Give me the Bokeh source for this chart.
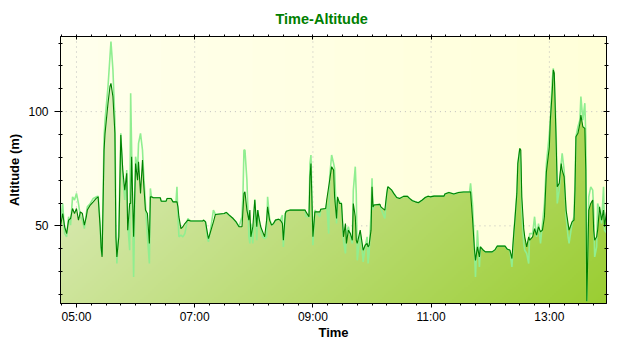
import numpy as np
import pandas as pd
from bokeh.plotting import figure
from bokeh.models import (Range1d, FixedTicker, DatetimeTickFormatter, LinearAxis,
                          CustomJSTickFormatter)
from bokeh.embed import file_html
from bokeh.resources import INLINE

DAY = "2024-05-01 "

times = [
    "04:44", "04:46", "04:48", "04:50", "04:52", "04:54", "04:56", "04:58", "05:00", "05:02",
    "05:04", "05:06", "05:08", "05:10", "05:11", "05:14", "05:17", "05:20", "05:22", "05:24",
    "05:25", "05:26", "05:28", "05:29", "05:32", "05:34", "05:35", "05:37", "05:39", "05:40",
    "05:41", "05:43", "05:45", "05:47", "05:49", "05:51", "05:52", "05:54", "05:55", "05:56",
    "05:58", "06:00", "06:02", "06:03", "06:05", "06:07", "06:08", "06:10", "06:12", "06:14",
    "06:15", "06:16", "06:18", "06:25", "06:26", "06:31", "06:32", "06:36", "06:38", "06:41",
    "06:42", "06:43", "06:44", "06:46", "06:48", "06:50", "06:53", "06:56", "07:08", "07:09",
    "07:11", "07:13", "07:14", "07:17", "07:19", "07:21", "07:30", "07:32", "07:35", "07:39",
    "07:42", "07:45", "07:48", "07:49", "07:50", "07:51", "07:53", "07:55", "07:56", "07:57",
    "07:59", "08:01", "08:03", "08:04", "08:05", "08:07", "08:09", "08:11", "08:13", "08:14",
    "08:16", "08:18", "08:20", "08:22", "08:25", "08:27", "08:29", "08:30", "08:32", "08:33",
    "08:37", "08:52", "08:53", "08:56", "08:57", "08:58", "09:00", "09:02", "09:07", "09:08",
    "09:13", "09:14", "09:16", "09:17", "09:19", "09:21", "09:22", "09:24", "09:25", "09:27",
    "09:29", "09:31", "09:33", "09:34", "09:36", "09:38", "09:40", "09:41", "09:43", "09:44",
    "09:45", "09:48", "09:50", "09:51", "09:53", "09:55", "09:56", "09:57", "09:59", "10:00",
    "10:01", "10:02", "10:08", "10:09", "10:13", "10:15", "10:16", "10:18", "10:20", "10:22",
    "10:25", "10:28", "10:32", "10:36", "10:38", "10:41", "10:44", "10:47", "10:51", "10:54",
    "10:57", "10:59", "11:03", "11:13", "11:14", "11:18", "11:23", "11:28", "11:33", "11:39",
    "11:40", "11:42", "11:44", "11:45", "11:47", "11:49", "11:50", "11:53", "11:55", "12:02",
    "12:05", "12:07", "12:15", "12:17", "12:20", "12:22", "12:24", "12:25", "12:27", "12:28",
    "12:30", "12:31", "12:32", "12:34", "12:35", "12:37", "12:39", "12:40", "12:43", "12:45",
    "12:47", "12:49", "12:51", "12:53", "12:55", "12:57", "13:00", "13:01", "13:03", "13:04",
    "13:05", "13:07", "13:08", "13:10", "13:12", "13:13", "13:15", "13:17", "13:19", "13:20",
    "13:23", "13:25", "13:26", "13:27", "13:29", "13:31", "13:32", "13:34", "13:36", "13:37",
    "13:38", "13:40", "13:42", "13:44", "13:45", "13:46", "13:48", "13:49", "13:51", "13:53",
    "13:55", "13:56", "13:58",
]

# smoothed altitude (dark green line, top of the filled area)
altitude = [
    50.3, 55.4, 49.6, 46.6, 52.5, 53.2, 57.6, 55.4, 57.6, 52.5,
    56.1, 55.4, 50.3, 54.0, 56.9, 59.1, 60.5, 62.0, 62.7, 49.6,
    40.8, 36.4, 83.2, 90.5, 103.7, 111.0, 112.4, 106.6, 90.5, 45.2,
    36.4, 45.2, 89.8, 74.4, 65.6, 73.0, 48.1, 59.8, 59.8, 80.3,
    45.2, 77.3, 70.0, 78.1, 64.2, 78.8, 70.0, 56.9, 55.4, 42.3,
    62.7, 62.7, 62.3, 62.3, 60.8, 60.8, 62.0, 62.0, 60.5, 60.5,
    60.5, 58.3, 53.9, 48.8, 49.6, 51.0, 52.5, 52.1, 52.1, 52.5,
    51.7, 46.6, 44.4, 48.8, 51.7, 55.0, 55.4, 55.9, 54.7, 53.2,
    51.7, 49.6, 49.6, 56.9, 64.2, 64.9, 56.9, 52.5, 56.9, 45.2,
    49.6, 61.3, 49.6, 56.9, 54.0, 49.6, 47.4, 45.2, 52.5, 58.3,
    52.5, 50.3, 51.0, 52.5, 52.9, 52.5, 51.0, 43.7, 55.4, 56.4,
    56.9, 56.9, 56.1, 54.0, 71.5, 77.3, 45.2, 56.1, 56.1, 57.3,
    57.6, 61.3, 67.1, 70.0, 75.9, 74.4, 62.7, 53.2, 62.7, 59.8,
    59.8, 45.2, 51.0, 42.3, 48.1, 46.6, 43.7, 59.8, 54.0, 43.7,
    42.3, 48.1, 42.3, 39.3, 41.5, 42.3, 40.8, 41.5, 48.1, 67.1,
    58.3, 59.1, 59.4, 58.3, 56.9, 64.2, 67.1, 66.4, 65.6, 64.2,
    62.4, 62.0, 62.9, 62.9, 62.0, 61.0, 60.5, 60.1, 61.3, 62.4,
    63.0, 62.7, 63.0, 63.0, 63.9, 64.6, 63.9, 64.6, 64.8, 64.8,
    64.9, 53.2, 39.3, 34.9, 40.8, 36.4, 40.8, 39.3, 38.6, 38.6,
    39.6, 41.1, 41.1, 39.9, 39.3, 35.7, 47.4, 52.5, 64.2, 77.3,
    83.9, 83.2, 62.7, 48.8, 45.2, 40.8, 45.2, 43.7, 45.2, 48.8,
    45.9, 49.6, 47.4, 48.1, 54.0, 73.7, 84.7, 96.3, 109.5, 118.3,
    116.8, 84.7, 67.1, 68.6, 77.3, 74.4, 71.5, 56.9, 51.0, 48.1,
    51.7, 52.5, 65.6, 89.0, 90.5, 94.9, 98.5, 93.4, 92.7, 74.4,
    17.0, 56.9, 59.8, 61.3, 48.1, 43.7, 45.2, 48.1, 58.3, 52.5,
    56.9, 49.6, 56.1,
]

# raw GPS altitude (light green line)
altitude_raw = [
    53.0, 59.8, 46.6, 45.2, 54.0, 50.3, 62.7, 61.3, 64.2, 59.8,
    54.0, 52.5, 48.8, 55.4, 58.3, 59.8, 62.0, 62.7, 63.0, 51.0,
    39.3, 37.1, 89.0, 96.3, 111.0, 124.1, 130.7, 118.3, 96.3, 51.0,
    33.5, 48.1, 90.5, 71.5, 61.3, 74.4, 51.0, 39.3, 108.0, 83.2,
    27.6, 80.3, 74.4, 86.1, 90.5, 83.2, 74.4, 59.8, 45.2, 33.5,
    66.4, 62.7, 62.3, 62.3, 60.8, 60.8, 62.0, 62.0, 60.5, 60.5,
    67.1, 54.0, 45.2, 45.9, 45.2, 46.6, 53.2, 52.1, 52.1, 52.5,
    51.7, 44.4, 43.0, 51.0, 56.9, 55.0, 55.4, 55.9, 54.7, 53.2,
    51.7, 49.6, 54.0, 64.2, 83.2, 83.2, 70.0, 45.2, 42.3, 51.0,
    42.3, 61.6, 43.7, 56.9, 54.0, 48.1, 45.2, 44.4, 45.2, 62.7,
    53.2, 50.3, 51.0, 52.5, 52.9, 52.5, 54.7, 40.8, 55.4, 56.4,
    56.9, 56.9, 54.0, 54.0, 77.3, 81.0, 41.5, 56.9, 54.0, 57.3,
    57.6, 59.8, 46.6, 71.5, 81.0, 77.3, 75.1, 51.0, 61.3, 60.5,
    59.8, 43.7, 37.9, 46.6, 49.6, 45.2, 42.3, 65.6, 75.9, 64.2,
    34.9, 46.6, 39.3, 34.2, 40.8, 45.2, 33.5, 37.9, 55.4, 70.8,
    56.9, 59.1, 59.4, 57.6, 53.2, 64.2, 67.1, 66.4, 65.6, 64.2,
    62.4, 62.0, 62.9, 62.9, 62.0, 61.0, 60.5, 60.1, 61.3, 62.4,
    63.0, 62.7, 63.0, 63.0, 63.9, 64.6, 63.9, 64.6, 64.8, 64.8,
    68.6, 59.8, 39.3, 27.6, 48.1, 32.0, 40.8, 39.3, 38.6, 38.6,
    39.6, 41.1, 41.1, 39.9, 39.3, 32.0, 47.4, 52.5, 64.2, 77.3,
    83.9, 76.0, 56.9, 42.3, 39.3, 37.9, 33.5, 46.6, 46.6, 54.0,
    45.2, 51.0, 42.3, 51.0, 59.8, 77.3, 90.5, 96.3, 113.9, 119.0,
    113.9, 89.0, 59.8, 65.6, 77.3, 81.7, 74.4, 54.0, 45.2, 42.3,
    51.0, 54.0, 68.6, 89.0, 93.4, 96.3, 106.6, 96.3, 103.7, 89.0,
    17.0, 62.7, 67.1, 65.6, 56.9, 36.4, 40.8, 59.8, 56.9, 51.0,
    67.1, 48.1, 47.0,
]

x_tick_labels = ["05:00", "07:00", "09:00", "11:00", "13:00"]
y_ticks = [50, 100]
y_minor_ticks = [20, 30, 40, 50, 60, 70, 80, 90, 100, 110, 120, 130]


def ms(s):
    return pd.Timestamp(DAY + s).value / 1e6


tms = np.array([ms(s) for s in times])
alt = np.array(altitude, dtype=float)
raw = np.array(altitude_raw, dtype=float)

X0, X1 = ms("04:43:47"), ms("13:58:00")
Y0, Y1 = 16.0, 132.9

p = figure(width=632, height=343, x_axis_type="datetime",
           x_range=Range1d(X0, X1), y_range=Range1d(Y0, Y1),
           output_backend="svg", toolbar_location=None,
           min_border_left=60, min_border_right=26, min_border_top=36, min_border_bottom=40,
           background_fill_color="white", border_fill_color="white")
p.grid.visible = False
p.outline_line_color = "black"
p.outline_line_width = 1
p.outline_line_alpha = 1

# title
p.title.text = "Time-Altitude"
p.title.text_color = "#008000"
p.title.text_font = "Liberation Sans"
p.title.text_font_size = "14.5px"
p.title.text_font_style = "bold"
p.title.align = "left"
p.title.offset = 215
p.title.standoff = 15

# gradient of the filled area (background image)
W, H = 273, 134
xn = np.linspace(0, 1, W)[None, :]
down = np.linspace(1, 0, H)[:, None]
s = 0.65 * xn + 0.35 * down
c0 = np.array([232, 240, 210], dtype=float)
c1 = np.array([154, 205, 50], dtype=float)
rgb = c0 + s[..., None] * (c1 - c0)
img = np.zeros((H, W), dtype=np.uint32)
view = img.view(dtype=np.uint8).reshape((H, W, 4))
view[..., :3] = np.round(rgb).astype(np.uint8)
view[..., 3] = 255
p.image_rgba(image=[img], x=X0, y=Y0, dw=X1 - X0, dh=Y1 - Y0, level="image")

# cream sky above the curve, in strips for a soft horizontal gradient
bg_l = np.array([255, 255, 236])
bg_r = np.array([255, 255, 216])
n = len(tms)
K = 14
bounds = np.linspace(0, n - 1, K + 1).round().astype(int)
for k in range(K):
    a, b = bounds[k], min(bounds[k + 1] + 1, n - 1)
    c = np.round(bg_l + (bg_r - bg_l) * k / (K - 1)).astype(int)
    col = "#%02x%02x%02x" % tuple(c)
    p.varea(x=tms[a:b + 1], y1=alt[a:b + 1], y2=Y1 + 2, fill_color=col)

# dotted grid, visible only in the sky
major_x = np.array([ms(s) for s in x_tick_labels])
p.segment(x0=major_x, y0=[Y1] * len(major_x), x1=major_x,
          y1=np.interp(major_x, tms, alt),
          line_color="#bdbdbd", line_dash="1 4", line_width=1)
for gv in y_ticks:
    p.line(tms, np.where(alt < gv, gv, np.nan), line_color="#bdbdbd",
           line_dash="1 4", line_width=1)

# series
p.line(tms, raw, line_color="#90EE90", line_width=1.6)
p.line(tms, alt, line_color="#008000", line_width=1.1)

# axes
minor_x = [pd.Timestamp(t).value / 1e6 for t in
           pd.date_range(DAY + "04:45", DAY + "13:45", freq="15min")]
xt = FixedTicker(ticks=list(major_x), minor_ticks=minor_x)
yt = FixedTicker(ticks=y_ticks, minor_ticks=y_minor_ticks)
fmt = "%H:%M"

xa = p.xaxis[0]
xa.ticker = xt
xa.formatter = DatetimeTickFormatter(hours=fmt, hourmin=fmt, minutes=fmt, minsec=fmt,
                                     days=fmt, seconds=fmt)
xa.axis_label = "Time"
ya = p.yaxis[0]
ya.ticker = yt
ya.axis_label = "Altitude (m)"

for ax in (xa, ya):
    ax.axis_line_color = "black"
    ax.major_tick_line_color = "black"
    ax.minor_tick_line_color = "black"
    ax.major_label_text_font = "Liberation Sans"
    ax.major_label_text_font_size = "12px"
    ax.major_label_text_color = "black"
    ax.axis_label_text_font = "Liberation Sans"
    ax.axis_label_text_font_size = "13px"
    ax.axis_label_text_font_style = "bold"
    ax.axis_label_text_color = "black"

xa.major_tick_out = 4
xa.major_tick_in = 0
xa.minor_tick_out = 2
xa.minor_tick_in = 0
xa.major_label_standoff = 2
xa.axis_label_standoff = -2

ya.major_tick_out = 6
ya.major_tick_in = 0
ya.minor_tick_out = 2
ya.minor_tick_in = 2
ya.major_label_standoff = 6
ya.axis_label_standoff = 3
ya.major_label_orientation = "horizontal"

blank = CustomJSTickFormatter(code="return ''")
ra = LinearAxis(ticker=yt, formatter=blank, major_label_standoff=0,
                major_tick_in=3, major_tick_out=3, minor_tick_in=2, minor_tick_out=2,
                major_label_text_font_size="0px")
ta = LinearAxis(ticker=xt, formatter=blank, major_label_standoff=0,
                major_tick_in=3, major_tick_out=0, minor_tick_in=0, minor_tick_out=2,
                major_label_text_font_size="0px")
p.add_layout(ra, "right")
p.add_layout(ta, "above")

open("out.html", "w").write(file_html(p, INLINE))
